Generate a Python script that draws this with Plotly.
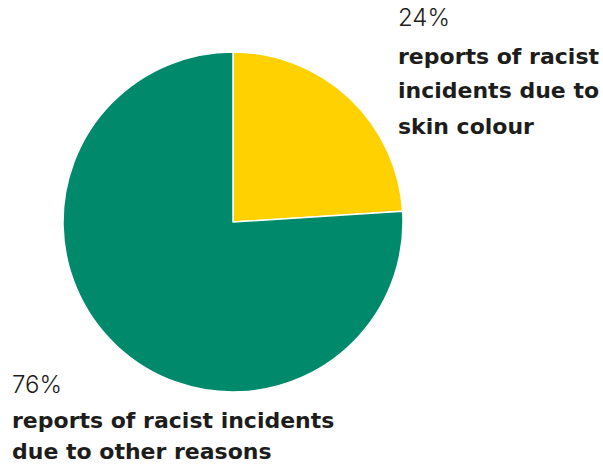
import plotly.graph_objects as go

# Share of reported racist incidents by reason
categories = ["reports of racist incidents due to skin colour",
              "reports of racist incidents due to other reasons"]
values = [24, 76]
colors = ["#ffd100", "#00896b"]

W, H = 603, 465
LABEL_FONT = "DejaVu Sans"
PCT_FONT = "Inter"
TEXT_COLOR = "#1d1d1b"

fig = go.Figure(go.Pie(
    labels=categories,
    values=values,
    sort=False,
    direction="clockwise",
    rotation=0,
    marker=dict(colors=colors, line=dict(color="white", width=1.5)),
    textinfo="none",
    hoverinfo="label+percent",
    showlegend=False,
    domain=dict(x=[63 / W, 403 / W], y=[(H - 392) / H, (H - 52) / H]),
))


def add_line(text, x, y_px, family, size, weight):
    fig.add_annotation(
        text=text, x=x / W, y=1 - y_px / H, xref="paper", yref="paper",
        xanchor="left", yanchor="middle", showarrow=False,
        font=dict(family=family, size=size, color=TEXT_COLOR, weight=weight),
    )


# Label block for the 24% slice
add_line(f"{values[0]}%", 396, 18, PCT_FONT, 24, 300)
add_line("reports of racist", 396, 57, LABEL_FONT, 22, 700)
add_line("incidents due to", 396, 91, LABEL_FONT, 22, 700)
add_line("skin colour", 396, 126, LABEL_FONT, 22, 700)

# Label block for the 76% slice
add_line(f"{values[1]}%", 10, 384, PCT_FONT, 24, 300)
add_line("reports of racist incidents", 10, 420, LABEL_FONT, 22, 700)
add_line("due to other reasons", 10, 451, LABEL_FONT, 22, 700)

fig.update_layout(
    width=W, height=H,
    margin=dict(l=0, r=0, t=0, b=0),
    paper_bgcolor="white",
    plot_bgcolor="white",
)

fig.write_html("out.html")
